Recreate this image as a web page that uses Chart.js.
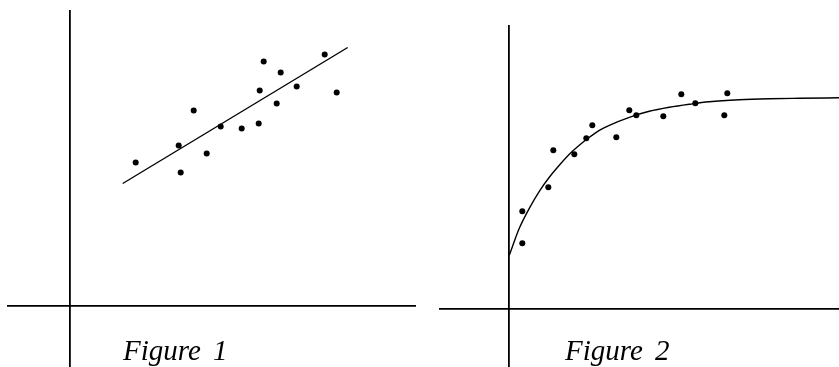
<!DOCTYPE html>
<html>
<head>
<meta charset="utf-8">
<script src="https://cdn.jsdelivr.net/npm/chart.js@4/dist/chart.umd.min.js"></script>
<style>
html, body { margin: 0; padding: 0; background: #fff; overflow: hidden; }
body { width: 839px; height: 367px; position: relative; }
.panel { position: absolute; top: 0; height: 367px; }
.caption {
  position: absolute;
  font-family: "Liberation Serif", "Times New Roman", serif;
  font-style: italic;
  font-size: 29px;
  line-height: 29px;
  color: #000;
  white-space: pre;
  word-spacing: 5px;
}
</style>
</head>
<body>
<div class="panel" style="left:0;width:420px"><canvas id="fig1" width="420" height="367"></canvas></div>
<div class="panel" style="left:420px;width:419px"><canvas id="fig2" width="419" height="367"></canvas></div>
<div class="caption" style="left:123px;top:336px">Figure 1</div>
<div class="caption" style="left:565px;top:336px">Figure 2</div>
<script>
// figure 1: scattered points with a straight fitted line
const fig1X = [6.6, 10.9, 11.1, 12.4, 13.7, 15.1, 17.2, 18.9, 19.0, 19.4, 20.7, 21.1, 22.7, 25.5, 26.7];
const fig1Y = [14.3, 16.0, 13.3, 19.5, 15.2, 17.9, 17.7, 18.2, 21.5, 24.4, 20.2, 23.3, 21.9, 25.1, 21.3];
const fig1LineX = [5.3, 27.8];
const fig1LineY = [12.2, 25.8];

// figure 2: points with a curve levelling off
const fig2X = [1.3, 1.3, 3.9, 4.4, 6.5, 7.7, 8.3, 10.7, 12.0, 12.7, 15.4, 17.2, 18.6, 21.5, 21.8];
const fig2Y = [9.8, 6.6, 12.2, 15.9, 15.5, 17.1, 18.4, 17.2, 19.9, 19.4, 19.3, 21.5, 20.6, 19.4, 21.6];
const fig2CurveX = [0, 1, 2, 3, 4, 5, 6, 7, 8, 9, 10, 12, 14, 16, 18, 20, 23, 26, 29, 33];
const fig2CurveY = [5.4, 8.1, 10.1, 11.8, 13.2, 14.4, 15.5, 16.4, 17.2, 17.9, 18.4, 19.2, 19.8, 20.2, 20.5, 20.75, 20.95, 21.05, 21.1, 21.15];

function pts(xs, ys) {
  return xs.map((x, i) => ({x: x, y: ys[i]}));
}

// only the zero line of each scale is drawn, it makes the axes
function axis(min, max) {
  return {
    type: 'linear',
    min: min,
    max: max,
    afterBuildTicks: s => { s.ticks = [{value: 0}]; },
    ticks: {display: false},
    border: {display: false},
    grid: {color: '#000', lineWidth: 1.8, drawTicks: false}
  };
}

function makeChart(el, dots, fit, xr, yr, pad) {
  return new Chart(el, {
    type: 'scatter',
    data: {
      datasets: [
        {
          data: dots,
          pointRadius: 3,
          pointBackgroundColor: '#000',
          pointBorderWidth: 0
        },
        {
          data: fit,
          showLine: true,
          pointRadius: 0,
          borderColor: '#000',
          borderWidth: 1.4,
          cubicInterpolationMode: 'monotone'
        }
      ]
    },
    options: {
      responsive: false,
      animation: false,
      devicePixelRatio: 1,
      layout: {padding: pad, autoPadding: false},
      plugins: {legend: {display: false}, tooltip: {enabled: false}},
      scales: {x: axis(xr[0], xr[1]), y: axis(yr[0], yr[1])}
    }
  });
}

makeChart(document.getElementById('fig1'), pts(fig1X, fig1Y), pts(fig1LineX, fig1LineY),
  [-6.27, 34.63], [-6.15, 29.55], {left: 7, top: 10, right: 4, bottom: 0});
makeChart(document.getElementById('fig2'), pts(fig2X, fig2Y), pts(fig2CurveX, fig2CurveY),
  [-7.03, 32.97], [-5.77, 28.43], {left: 19, top: 25, right: 0, bottom: 0});
</script>
</body>
</html>
